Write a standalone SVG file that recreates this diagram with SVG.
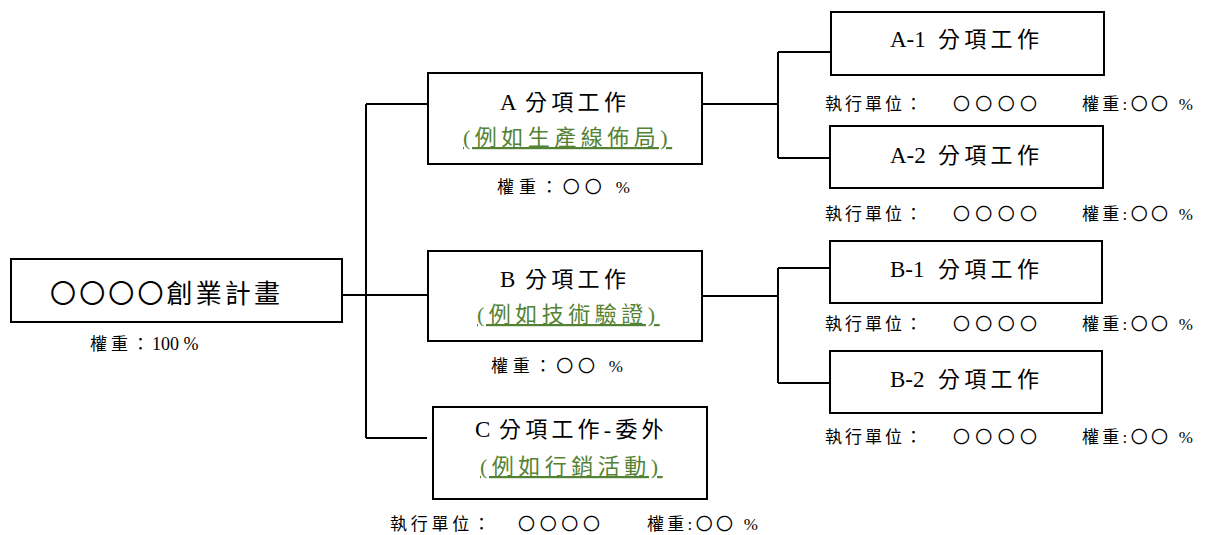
<svg xmlns="http://www.w3.org/2000/svg" width="1205" height="535" viewBox="0 0 1205 535">
<style>
text{font-family:"Liberation Serif","Noto Sans CJK TC",serif;fill:#000}
.box{fill:#fff;stroke:#000;stroke-width:2}
.t{font-size:22px}
.k{letter-spacing:4.3px}
.tm{font-size:26px}
.g{font-size:22px;fill:#548235;text-decoration:underline;letter-spacing:4.5px}
.s{font-size:17px}
.c{stroke:#000;stroke-width:2;fill:none}
</style>
<rect width="1205" height="535" fill="#fff"/>
<g id="connectors">
<path class="c" d="M342 295H428"/>
<path class="c" d="M366 104V438"/>
<path class="c" d="M366 104H428"/>
<path class="c" d="M366 438H427"/>
<path class="c" d="M702 104H778"/>
<path class="c" d="M778 52V158"/>
<path class="c" d="M778 52H831"/>
<path class="c" d="M778 158H830"/>
<path class="c" d="M702 296H778"/>
<path class="c" d="M778 268V383"/>
<path class="c" d="M778 268H830"/>
<path class="c" d="M778 383H830"/>
</g>
<g id="main">
<rect class="box" x="11" y="259" width="331" height="63"/>
<text class="tm" x="50" y="303" textLength="230" lengthAdjust="spacing">〇〇〇〇創業計畫</text>
<text class="s" x="90" y="350"><tspan letter-spacing="4">權重：</tspan><tspan x="152" font-size="18">100 %</tspan></text>
</g>
<g id="nodeA">
<rect class="box" x="428" y="73" width="274" height="91"/>
<text class="t" x="500" y="110"><tspan font-size="23">A</tspan><tspan class="k" x="525">分項工作</tspan></text>
<text class="g" x="463" y="145">(例如生產線佈局)</text>
<text class="s" x="497" y="193" textLength="133" lengthAdjust="spacing">權重：〇〇 %</text>
</g>
<g id="nodeB">
<rect class="box" x="428" y="251" width="274" height="90"/>
<text class="t" x="500" y="287"><tspan font-size="23">B</tspan><tspan class="k" x="525">分項工作</tspan></text>
<text class="g" x="477" y="322">(例如技術驗證)</text>
<text class="s" x="491" y="372" textLength="132" lengthAdjust="spacing">權重：〇〇 %</text>
</g>
<g id="nodeC">
<rect class="box" x="433" y="407" width="274" height="92"/>
<text class="t" x="475" y="437"><tspan font-size="23">C</tspan><tspan letter-spacing="4.2" x="499">分項工作-委外</tspan></text>
<text class="g" x="480" y="474">(例如行銷活動)</text>
<text class="s" x="390" y="530" textLength="100" lengthAdjust="spacing">執行單位：</text>
<text class="s" x="518" y="530" textLength="82" lengthAdjust="spacing">〇〇〇〇</text>
<text class="s" x="647" y="530" textLength="111" lengthAdjust="spacing">權重:〇〇 %</text>
</g>
<g id="nodeA1">
<rect class="box" x="831" y="12" width="273" height="63"/>
<text class="t" x="890" y="47"><tspan font-size="23">A-1</tspan><tspan class="k" x="938">分項工作</tspan></text>
<text class="s" x="825" y="110" textLength="97" lengthAdjust="spacing">執行單位：</text>
<text class="s" x="953" y="110" textLength="84" lengthAdjust="spacing">〇〇〇〇</text>
<text class="s" x="1082" y="110" textLength="111" lengthAdjust="spacing">權重:〇〇 %</text>
</g>
<g id="nodeA2">
<rect class="box" x="830" y="126" width="273" height="62"/>
<text class="t" x="890" y="163"><tspan font-size="23">A-2</tspan><tspan class="k" x="938">分項工作</tspan></text>
<text class="s" x="825" y="220" textLength="97" lengthAdjust="spacing">執行單位：</text>
<text class="s" x="953" y="220" textLength="84" lengthAdjust="spacing">〇〇〇〇</text>
<text class="s" x="1082" y="220" textLength="111" lengthAdjust="spacing">權重:〇〇 %</text>
</g>
<g id="nodeB1">
<rect class="box" x="830" y="241" width="272" height="62"/>
<text class="t" x="890" y="277"><tspan font-size="23">B-1</tspan><tspan class="k" x="938">分項工作</tspan></text>
<text class="s" x="825" y="330" textLength="97" lengthAdjust="spacing">執行單位：</text>
<text class="s" x="953" y="330" textLength="84" lengthAdjust="spacing">〇〇〇〇</text>
<text class="s" x="1082" y="330" textLength="111" lengthAdjust="spacing">權重:〇〇 %</text>
</g>
<g id="nodeB2">
<rect class="box" x="830" y="351" width="272" height="62"/>
<text class="t" x="890" y="387"><tspan font-size="23">B-2</tspan><tspan class="k" x="938">分項工作</tspan></text>
<text class="s" x="825" y="443" textLength="97" lengthAdjust="spacing">執行單位：</text>
<text class="s" x="953" y="443" textLength="84" lengthAdjust="spacing">〇〇〇〇</text>
<text class="s" x="1082" y="443" textLength="111" lengthAdjust="spacing">權重:〇〇 %</text>
</g>
</svg>
